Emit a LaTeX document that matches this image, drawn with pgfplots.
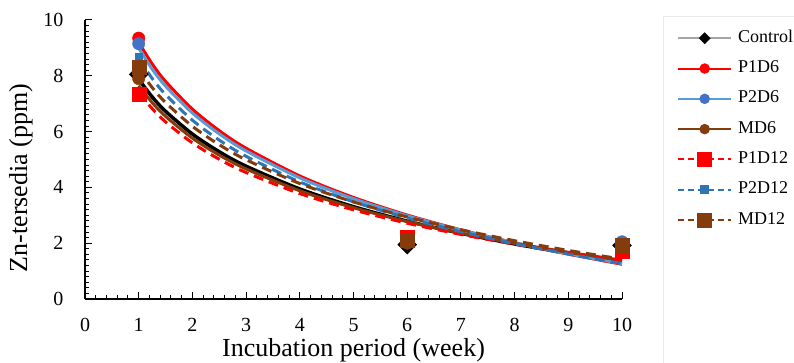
\documentclass[border=0pt]{standalone}
\usepackage{fontspec}
\setmainfont{Liberation Serif}
\usepackage{pgfplots}
\pgfplotsset{compat=1.18}
\definecolor{cred}{HTML}{FF0000}
\definecolor{cblue}{HTML}{4472C4}
\definecolor{clblue}{HTML}{5B9BD5}
\definecolor{cdblue}{HTML}{2E75B6}
\definecolor{cbrown}{HTML}{843C0C}
\definecolor{cgray}{HTML}{A5A5A5}
\begin{document}
\begin{tikzpicture}[x=1pt,y=1pt]
\path[use as bounding box] (0,0) rectangle (794,363);
\draw[black!8, line width=0.8pt] (663,0) -- (663,347) -- (800,347);
\begin{axis}[
  at={(85pt,64pt)}, anchor=south west, scale only axis,
  width=537pt, height=279pt,
  xmin=0, xmax=10, ymin=0, ymax=10,
  axis x line*=bottom, axis y line*=left,
  xtick={0,...,10}, ytick={0,2,...,10},
  minor x tick num=4, minor y tick num=9,
  tick align=inside, major tick length=7pt, minor tick length=4pt,
  every tick/.style={black, line width=1pt},
  axis line style={black, line width=1.3pt},
  /pgf/number format/assume math mode=true,
  ticklabel style={font=\fontsize{20}{20}\selectfont},
  xticklabel style={yshift=-16pt},
  yticklabel style={xshift=-18pt},
  xlabel={Incubation period (week)},
  ylabel={Zn-tersedia (ppm)},
  label style={font=\fontsize{26}{26}\selectfont},
  xlabel style={at={(axis description cs:0.5,-0.128)}, anchor=north},
  ylabel style={at={(axis description cs:-0.1192,0.434)}, anchor=center},
  clip=false,
  legend style={at={(rel axis cs:1.1024,0.964)}, anchor=north west, draw=none,
    fill=none, inner sep=0pt, row sep=14.3pt, column sep=6pt,
    font=\fontsize{18}{18}\selectfont,
    nodes={inner sep=0pt, text height=12pt, text depth=4pt}},
  legend cell align=left,
  legend image code/.code={\draw[mark repeat=2,mark phase=2,#1] plot coordinates {(0pt,0pt) (26.5pt,0pt) (53pt,0pt)};},
]
% legend entries
\addlegendimage{draw=cgray, line width=2pt, mark=square*, mark size=3.2pt, mark options={draw=black, fill=black, rotate=45, solid}}
\addlegendentry{Control}
\addlegendimage{draw=cred, line width=2pt, mark=*, mark size=4.2pt, mark options={draw=cred, fill=cred, solid}}
\addlegendentry{P1D6}
\addlegendimage{draw=clblue, line width=2pt, mark=*, mark size=4.2pt, mark options={draw=cblue, fill=cblue, solid}}
\addlegendentry{P2D6}
\addlegendimage{draw=cbrown, line width=2pt, mark=*, mark size=4.2pt, mark options={draw=cbrown, fill=cbrown, solid}}
\addlegendentry{MD6}
\addlegendimage{draw=cred, line width=2pt, dash pattern=on 6pt off 4pt, mark=square*, mark size=6.5pt, mark options={draw=cred, fill=cred, solid}}
\addlegendentry{P1D12}
\addlegendimage{draw=cdblue, line width=2pt, dash pattern=on 6pt off 4pt, mark=square*, mark size=3.5pt, mark options={draw=cdblue, fill=cdblue, solid}}
\addlegendentry{P2D12}
\addlegendimage{draw=cbrown, line width=2pt, dash pattern=on 6pt off 4pt, mark=square*, mark size=6.5pt, mark options={draw=cbrown, fill=cbrown, solid}}
\addlegendentry{MD12}
% data points
\addplot[forget plot, only marks, mark=square*, mark size=6.7pt, mark options={draw=black, fill=black, rotate=45}] coordinates {(1,8.05) (6,1.95) (10,1.92)};
\addplot[forget plot, only marks, mark=*, mark size=6.2pt, mark options={draw=cred, fill=cred}] coordinates {(1,9.35) (6,2.1) (10,1.95)};
\addplot[forget plot, only marks, mark=*, mark size=6.2pt, mark options={draw=cblue, fill=cblue}] coordinates {(1,9.15) (6,2.1) (10,2.05)};
\addplot[forget plot, only marks, mark=*, mark size=6.2pt, mark options={draw=cbrown, fill=cbrown}] coordinates {(1,7.9) (6,2.0) (10,1.9)};
\addplot[forget plot, only marks, mark=square*, mark size=7pt, mark options={draw=cred, fill=cred}] coordinates {(1,7.35) (6,2.2) (10,1.7)};
\addplot[forget plot, only marks, mark=square*, mark size=3.5pt, mark options={draw=cdblue, fill=cdblue}] coordinates {(1,8.7) (6,2.1) (10,1.95)};
\addplot[forget plot, only marks, mark=square*, mark size=7pt, mark options={draw=cbrown, fill=cbrown}] coordinates {(1,8.3) (6,2.1) (10,1.93)};
% trend lines
\addplot[forget plot, draw=black, line width=3.5pt, smooth] coordinates {(1,7.88) (1.25,7.246) (1.5,6.728) (2,5.912) (2.5,5.278) (3,4.760) (4,3.943) (5,3.309) (6,2.791) (7,2.354) (8,1.974) (9,1.640) (10,1.341)};
\addplot[forget plot, draw=cred, line width=3pt, smooth] coordinates {(1,9.2) (1.25,8.429) (1.5,7.799) (2,6.805) (2.5,6.034) (3,5.404) (4,4.410) (5,3.639) (6,3.009) (7,2.477) (8,2.016) (9,1.609) (10,1.244)};
\addplot[forget plot, draw=clblue, line width=3pt, smooth] coordinates {(1,8.99) (1.25,8.242) (1.5,7.630) (2,6.666) (2.5,5.918) (3,5.306) (4,4.342) (5,3.594) (6,2.982) (7,2.465) (8,2.018) (9,1.623) (10,1.269)};
\addplot[forget plot, draw=cbrown, line width=3pt, smooth] coordinates {(1,7.65) (1.25,7.043) (1.5,6.547) (2,5.765) (2.5,5.158) (3,4.662) (4,3.879) (5,3.272) (6,2.776) (7,2.357) (8,1.994) (9,1.674) (10,1.387)};
\addplot[forget plot, draw=cred, line width=3pt, dash pattern=on 10pt off 6pt, smooth] coordinates {(1,7.41) (1.25,6.826) (1.5,6.348) (2,5.595) (2.5,5.010) (3,4.533) (4,3.779) (5,3.195) (6,2.717) (7,2.314) (8,1.964) (9,1.655) (10,1.379)};
\addplot[forget plot, draw=cdblue, line width=3pt, dash pattern=on 10pt off 6pt, smooth] coordinates {(1,8.62) (1.25,7.908) (1.5,7.326) (2,6.408) (2.5,5.696) (3,5.114) (4,4.196) (5,3.484) (6,2.902) (7,2.411) (8,1.985) (9,1.609) (10,1.272)};
\addplot[forget plot, draw=cbrown, line width=3pt, dash pattern=on 10pt off 6pt, smooth] coordinates {(1,8.24) (1.25,7.580) (1.5,7.041) (2,6.190) (2.5,5.530) (3,4.990) (4,4.139) (5,3.479) (6,2.940) (7,2.484) (8,2.089) (9,1.741) (10,1.429)};
\end{axis}
\end{tikzpicture}
\end{document}
